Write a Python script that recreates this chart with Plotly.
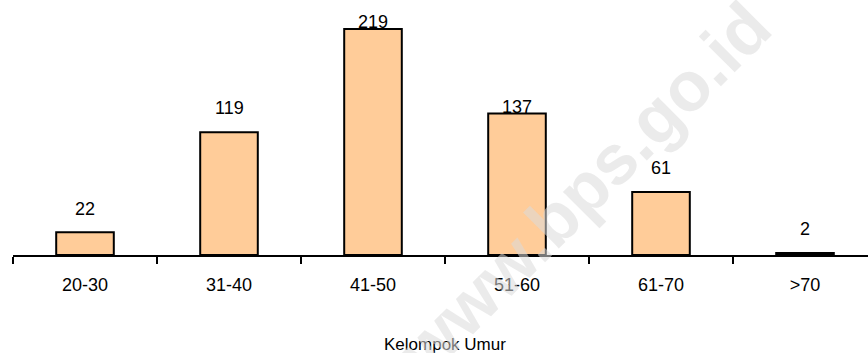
import plotly.graph_objects as go

# Age groups and respondent counts
age_groups = ["20-30", "31-40", "41-50", "51-60", "61-70", ">70"]
counts = [22, 119, 219, 137, 61, 2]

# vertical gap (px) between each bar top and its value label
label_gap = [16, 17, 0, 0, 17, 17]

FONT = "Liberation Sans Narrow, Arial Narrow, Liberation Sans, Arial, sans-serif"

fig = go.Figure(
    go.Bar(
        x=age_groups,
        y=counts,
        width=0.4,
        marker=dict(color="#FFCC99", line=dict(color="black", width=2)),
        hoverinfo="skip",
    )
)

annotations = []
for cat, val, gap in zip(age_groups, counts, label_gap):
    annotations.append(
        dict(
            x=cat, y=val, xref="x", yref="y",
            text=str(val), showarrow=False,
            yanchor="bottom", yshift=gap - 5,
            font=dict(family=FONT, size=18, color="black"),
        )
    )

# axis title
annotations.append(
    dict(
        x=2.5, xref="x", y=-0.352, yref="paper",
        text="Kelompok Umur", showarrow=False,
        xanchor="center", yanchor="middle",
        font=dict(family=FONT, size=17, color="black"),
    )
)

# watermark
annotations.append(
    dict(
        x=0.668, xref="paper", y=0.26, yref="paper",
        text="www.bps.go.id", showarrow=False,
        xanchor="center", yanchor="middle",
        textangle=-45,
        font=dict(family="Liberation Sans, Arial, sans-serif", size=70,
                  color="rgba(218,218,218,0.55)", weight="bold"),
    )
)

fig.update_layout(
    width=868,
    height=353,
    margin=dict(l=13, r=0, t=0, b=98),
    paper_bgcolor="white",
    plot_bgcolor="white",
    showlegend=False,
    annotations=annotations,
    xaxis=dict(
        type="category",
        range=[-0.5, 5.4375],
        showline=True,
        linecolor="black",
        linewidth=2,
        ticks="outside",
        tickson="boundaries",
        ticklen=7,
        tickwidth=2,
        tickcolor="black",
        showgrid=False,
        zeroline=False,
        tickfont=dict(family=FONT, size=18, color="black"),
        ticklabelstandoff=12,
    ),
    yaxis=dict(visible=False, range=[0, 247], fixedrange=True),
)

fig.write_html("out.html")
